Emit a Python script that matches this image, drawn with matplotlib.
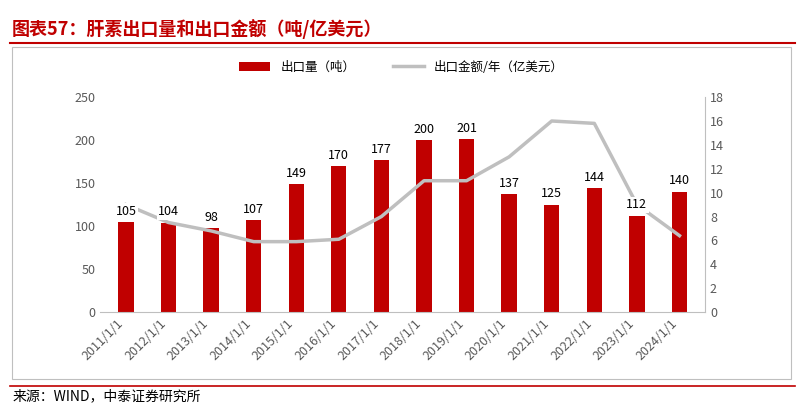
import matplotlib.pyplot as plt
from matplotlib.patches import Rectangle

plt.rcParams['font.family'] = ['Noto Sans CJK SC', 'DejaVu Sans']

years = ['2011/1/1', '2012/1/1', '2013/1/1', '2014/1/1', '2015/1/1', '2016/1/1', '2017/1/1',
         '2018/1/1', '2019/1/1', '2020/1/1', '2021/1/1', '2022/1/1', '2023/1/1', '2024/1/1']
volume = [105, 104, 98, 107, 149, 170, 177, 200, 201, 137, 125, 144, 112, 140]
amount = [9.0, 7.5, 6.8, 5.9, 5.9, 6.1, 8.0, 11.0, 11.0, 13.0, 16.0, 15.8, 9.0, 6.4]

fig = plt.figure(figsize=(8.03, 4.08), dpi=100)

# title and frame
fig.text(0.015, 0.93, '图表57：肝素出口量和出口金额（吨/亿美元）', color='#c00000',
         fontsize=13, fontweight='bold', style='italic', va='center')
fig.add_artist(plt.Line2D([0.012, 0.99], [0.895, 0.895], color='#c00000', lw=1.5))
fig.add_artist(Rectangle((0.015, 0.07), 0.97, 0.815, fill=False, ec='#bfbfbf', lw=0.8))
fig.add_artist(plt.Line2D([0.012, 0.99], [0.055, 0.055], color='#c00000', lw=1.2))
fig.text(0.015, 0.03, '来源：WIND，中泰证券研究所', fontsize=10, va='center')

ax = fig.add_axes([0.125, 0.235, 0.753, 0.527])
x = range(len(years))
ax.bar(x, volume, width=0.36, color='#c00000', label='出口量（吨）')
ax.set_ylim(0, 250)
ax.set_yticks(range(0, 251, 50))
ax.set_xlim(-0.6, len(years) - 0.4)
ax.set_xticks(list(x))
ax.set_xticklabels(years, rotation=45, ha='right', fontsize=9, color='#595959')
ax.tick_params(axis='y', labelsize=9, colors='#595959', length=0)
ax.tick_params(axis='x', length=0)
for s in ['top', 'right', 'left']:
    ax.spines[s].set_visible(False)
ax.spines['bottom'].set_color('#bfbfbf')

ax2 = ax.twinx()
ax2.plot(list(x), amount, color='#bfbfbf', lw=2.5, label='出口金额/年（亿美元）')
ax2.set_ylim(0, 18)
ax2.set_yticks(range(0, 19, 2))
ax2.tick_params(axis='y', labelsize=9, colors='#595959', length=0)
for s in ['top', 'left', 'bottom']:
    ax2.spines[s].set_visible(False)
ax2.spines['right'].set_color('#bfbfbf')

# value labels on top of the line, with white background
for i, v in enumerate(volume):
    ax2.text(i, v + 5, str(v), transform=ax.transData, ha='center', va='bottom', fontsize=9,
             zorder=5, bbox=dict(fc='white', ec='none', pad=1))

h1, l1 = ax.get_legend_handles_labels()
h2, l2 = ax2.get_legend_handles_labels()
fig.legend(h1 + h2, l1 + l2, loc='center', bbox_to_anchor=(0.5, 0.835), ncol=2,
           frameon=False, fontsize=9, handlelength=2.5, columnspacing=3)

fig.savefig('out.png', dpi=100)
